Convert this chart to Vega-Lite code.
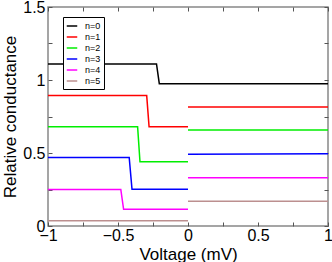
{
  "$schema": "https://vega.github.io/schema/vega-lite/v6.json",
  "autosize": "none",
  "width": 280,
  "height": 219,
  "padding": {"left": 48, "top": 7, "right": 4, "bottom": 36},
  "background": "white",
  "config": {
    "font": "Liberation Sans",
    "view": {"stroke": "#888888", "strokeWidth": 1.5},
    "axis": {"domain": false, "grid": false, "tickColor": "#555555", "labelColor": "black", "titleColor": "black", "labelFont": "Liberation Sans", "titleFont": "Liberation Sans", "titleFontWeight": "normal"}
  },
  "data": {
    "values": [
      {"n": "n=0", "seg": "a", "v": -1, "g": 1.11},
      {"n": "n=0", "seg": "a", "v": -0.225, "g": 1.11},
      {"n": "n=0", "seg": "a", "v": -0.205, "g": 0.975},
      {"n": "n=0", "seg": "a", "v": 0, "g": 0.975},
      {"n": "n=0", "seg": "b", "v": 0, "g": 0.975},
      {"n": "n=0", "seg": "b", "v": 1, "g": 0.975},
      {"n": "n=1", "seg": "a", "v": -1, "g": 0.893},
      {"n": "n=1", "seg": "a", "v": -0.295, "g": 0.893},
      {"n": "n=1", "seg": "a", "v": -0.278, "g": 0.68},
      {"n": "n=1", "seg": "a", "v": 0, "g": 0.68},
      {"n": "n=1", "seg": "b", "v": 0, "g": 0.815},
      {"n": "n=1", "seg": "b", "v": 1, "g": 0.815},
      {"n": "n=2", "seg": "a", "v": -1, "g": 0.68},
      {"n": "n=2", "seg": "a", "v": -0.36, "g": 0.68},
      {"n": "n=2", "seg": "a", "v": -0.343, "g": 0.44},
      {"n": "n=2", "seg": "a", "v": 0, "g": 0.44},
      {"n": "n=2", "seg": "b", "v": 0, "g": 0.658},
      {"n": "n=2", "seg": "b", "v": 1, "g": 0.658},
      {"n": "n=3", "seg": "a", "v": -1, "g": 0.47},
      {"n": "n=3", "seg": "a", "v": -0.42, "g": 0.47},
      {"n": "n=3", "seg": "a", "v": -0.4, "g": 0.251},
      {"n": "n=3", "seg": "a", "v": 0, "g": 0.251},
      {"n": "n=3", "seg": "b", "v": 0, "g": 0.492},
      {"n": "n=3", "seg": "b", "v": 1, "g": 0.495},
      {"n": "n=4", "seg": "a", "v": -1, "g": 0.25},
      {"n": "n=4", "seg": "a", "v": -0.48, "g": 0.25},
      {"n": "n=4", "seg": "a", "v": -0.46, "g": 0.114},
      {"n": "n=4", "seg": "a", "v": 0, "g": 0.114},
      {"n": "n=4", "seg": "b", "v": 0, "g": 0.331},
      {"n": "n=4", "seg": "b", "v": 1, "g": 0.331},
      {"n": "n=5", "seg": "a", "v": -1, "g": 0.036},
      {"n": "n=5", "seg": "a", "v": 0, "g": 0.036},
      {"n": "n=5", "seg": "b", "v": 0, "g": 0.169},
      {"n": "n=5", "seg": "b", "v": 1, "g": 0.169}
    ]
  },
  "resolve": {"axis": {"x": "independent", "y": "independent"}},
  "layer": [
    {
      "mark": {"type": "line", "strokeWidth": 1.5, "clip": true},
      "encoding": {
        "x": {"field": "v", "type": "quantitative", "scale": {"domain": [-1, 1], "nice": false, "zero": false},
          "axis": {"orient": "bottom", "title": "Voltage (mV)", "titleFontSize": 17, "titlePadding": 3, "labelFontSize": 16, "labelPadding": 5, "tickSize": -4, "values": [-1, -0.75, -0.5, -0.25, 0, 0.25, 0.5, 0.75, 1], "labelExpr": "datum.value % 0.5 == 0 ? format(datum.value, '~g') : ''", "labelFlush": false, "labelOverlap": false}},
        "y": {"field": "g", "type": "quantitative", "scale": {"domain": [0, 1.5], "nice": false},
          "axis": {"orient": "left", "title": "Relative conductance", "titleFontSize": 17, "titlePadding": 3, "labelFontSize": 16, "labelPadding": 7, "tickSize": -4, "values": [0, 0.25, 0.5, 0.75, 1, 1.25, 1.5], "labelExpr": "datum.value % 0.5 == 0 ? format(datum.value, '~g') : ''", "labelFlush": false, "labelOverlap": false}},
        "color": {"field": "n", "type": "nominal",
          "scale": {"domain": ["n=0", "n=1", "n=2", "n=3", "n=4", "n=5"], "range": ["#000000", "#ff0000", "#00ee00", "#0000ff", "#ff00ff", "#bc8f8f"]},
          "legend": {"title": null, "orient": "none", "legendX": 15, "legendY": 10, "strokeColor": "#000000", "fillColor": "white", "padding": 3, "labelFontSize": 9, "labelFont": "Liberation Sans", "symbolType": "stroke", "symbolSize": 110, "symbolStrokeWidth": 1.5, "rowPadding": 0, "labelOffset": 7}},
        "detail": {"field": "seg", "type": "nominal"}
      }
    },
    {
      "mark": {"type": "line", "opacity": 0},
      "encoding": {
        "x": {"field": "v", "type": "quantitative", "axis": {"orient": "top", "title": null, "labels": false, "tickSize": -4, "values": [-1, -0.75, -0.5, -0.25, 0, 0.25, 0.5, 0.75, 1]}},
        "y": {"field": "g", "type": "quantitative", "axis": {"orient": "right", "title": null, "labels": false, "tickSize": -4, "values": [0, 0.25, 0.5, 0.75, 1, 1.25, 1.5]}},
        "detail": {"field": "seg", "type": "nominal"}
      }
    }
  ]
}
